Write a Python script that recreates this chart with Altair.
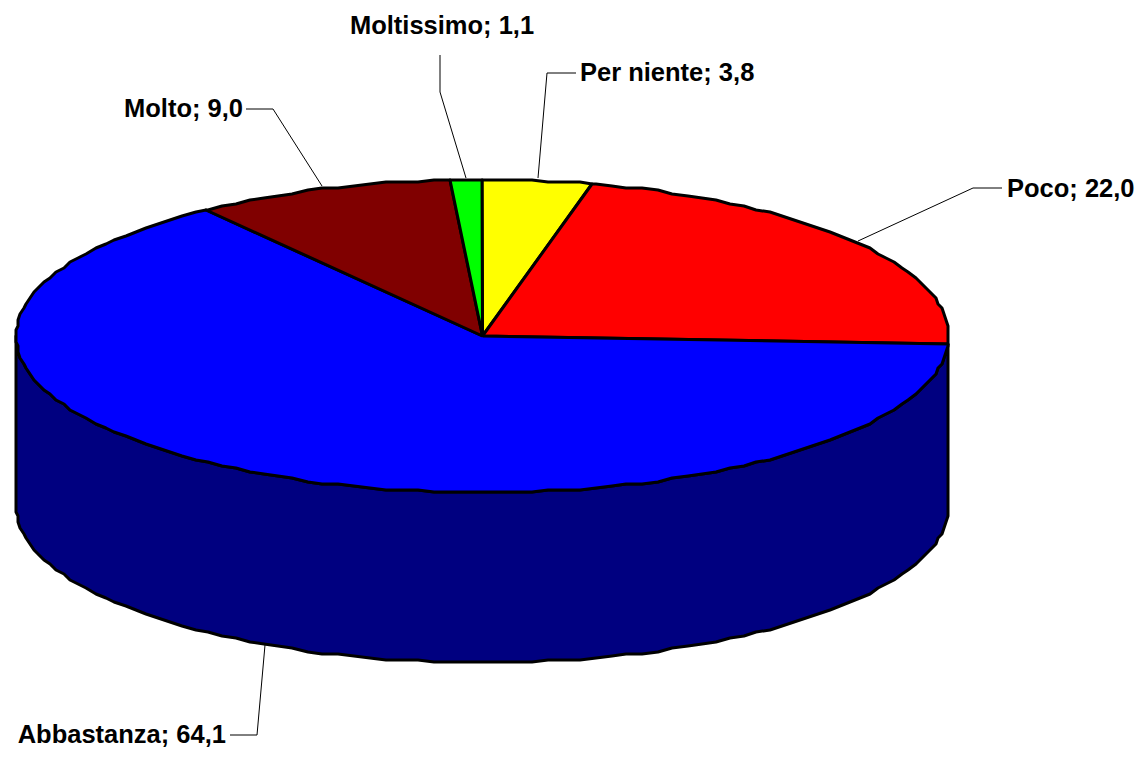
import math
import altair as alt
import pandas as pd

categories = ["Per niente", "Poco", "Abbastanza", "Molto", "Moltissimo"]
values = [3.8, 22.0, 64.1, 9.0, 1.1]
value_text = ["3,8", "22,0", "64,1", "9,0", "1,1"]
top_colors = ["#FFFF00", "#FF0000", "#0000FF", "#800000", "#00FF00"]
side_color = "#000080"

# layout of the drawing, in page pixels
CX, CY, RX, RY, DEPTH = 482.5, 336.0, 466.5, 156.5, 170.0
STEP, GRID_X, GRID_Y = 2.0, 2.0, 2.0
FONT = "Liberation Sans"


def rim(deg, drop=0.0):
    a = math.radians(deg)
    x = CX + RX * math.sin(a)
    y = CY - RY * math.cos(a)
    return round(x / GRID_X) * GRID_X, round(y / GRID_Y) * GRID_Y + drop


def arc_degrees(start, end):
    inner = []
    k = math.floor(start / STEP) + 1
    while k * STEP < end:
        inner.append(k * STEP)
        k += 1
    return [start] + inner + [end]


rows = []
cum = 0.0
wedges = []
for cat, v, in zip(categories, values):
    wedges.append((cat, cum * 3.6, (cum + v) * 3.6))
    cum += v

# side wall of the Abbastanza slice, visible down to the leftmost point
start_side = wedges[2][1]
side_pts = [rim(d) for d in arc_degrees(start_side, 270)]
side_pts += [rim(d, DEPTH) for d in reversed(arc_degrees(start_side, 270))]
side_pts += [side_pts[0]]
for i, (x, y) in enumerate(side_pts):
    rows.append({"part": "side", "i": i, "x": x, "y": y})

for cat, a, b in wedges:
    pts = [(CX, CY)] + [rim(d) for d in arc_degrees(a, b)] + [(CX, CY)]
    for i, (x, y) in enumerate(pts):
        rows.append({"part": cat, "i": i, "x": x, "y": y})
shapes = pd.DataFrame(rows)

label_anchor = {
    "Per niente": ((580, 73), "left"),
    "Poco": ((1007, 189), "left"),
    "Abbastanza": ((226, 735), "right"),
    "Molto": ((243, 109), "right"),
    "Moltissimo": ((442, 26), "center"),
}
leader_paths = {
    "Per niente": [(576, 73), (547, 73), (538, 178)],
    "Poco": [(1002, 188), (973, 188), (858, 241)],
    "Abbastanza": [(230, 735), (257, 735), (265, 645)],
    "Molto": [(246, 109), (273, 109), (322, 186)],
    "Moltissimo": [(440, 55), (440, 92), (466, 178)],
}

labels = pd.DataFrame([
    {"text": f"{c}; {t}", "x": label_anchor[c][0][0], "y": label_anchor[c][0][1], "al": label_anchor[c][1]}
    for c, t in zip(categories, value_text)
])
leaders = pd.DataFrame([
    {"cat": c, "i": i, "x": p[0], "y": p[1]}
    for c in categories for i, p in enumerate(leader_paths[c])
])

xs = alt.Scale(domain=[8, 1136], range=[0, 1128], nice=False, zero=False)
ys = alt.Scale(domain=[8, 749], range=[0, 741], nice=False, zero=False)
X = alt.X("x:Q", scale=xs, axis=None)
Y = alt.Y("y:Q", scale=ys, axis=None)

fill_scale = alt.Scale(domain=["side"] + categories, range=[side_color] + top_colors)

body = alt.Chart(shapes).mark_line(stroke="black", strokeWidth=3, strokeJoin="round", clip=False).encode(
    x=X, y=Y, order="i:Q", detail="part:N",
    fill=alt.Fill("part:N", scale=fill_scale, legend=None),
)

lead = alt.Chart(leaders).mark_line(stroke="black", strokeWidth=1).encode(
    x=X, y=Y, order="i:Q", detail="cat:N",
)

def text_layer(al):
    return alt.Chart(labels[labels["al"] == al]).mark_text(
        font=FONT, fontWeight="bold", fontSize=25.5, align=al, baseline="middle", color="black"
    ).encode(x=X, y=Y, text="text:N")

chart = alt.layer(body, lead, text_layer("left"), text_layer("right"), text_layer("center")).properties(
    width=1128, height=741, padding=0, autosize=alt.AutoSizeParams(type="none"),
    background="white",
).configure_view(stroke=None)

chart.save("out.html", embed_options={"renderer": "svg", "actions": False})
